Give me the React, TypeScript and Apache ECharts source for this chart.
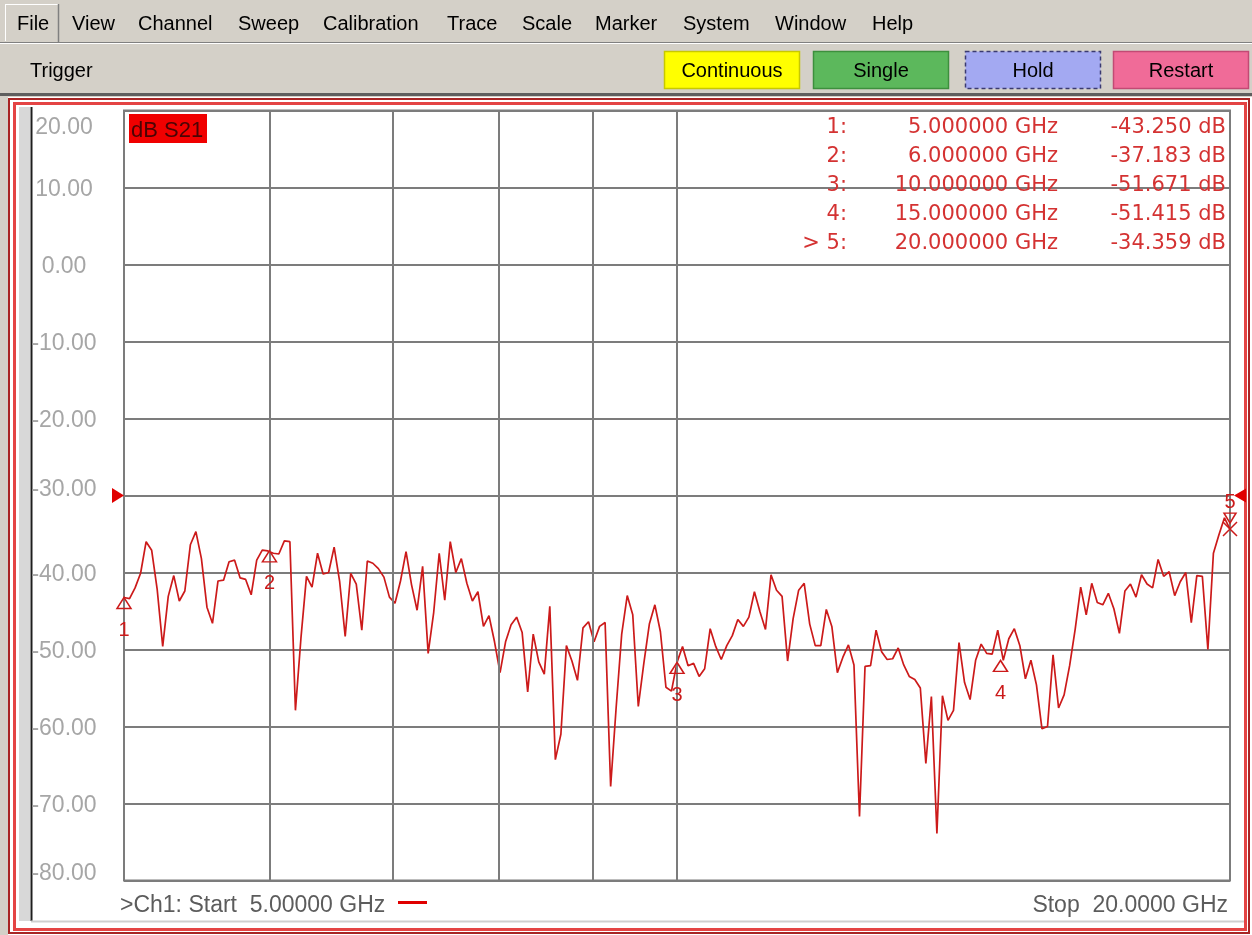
import React, { useEffect, useRef } from "react";
import * as echarts from "echarts";

// ---------------- data ----------------
const sweepStartGHz = 5;
const sweepStopGHz = 20;
// S21 magnitude (dB) at the 201 log-spaced sweep points
const s21dB: number[] = [
  -43.25, -43.4, -42.0, -40.1, -36.0, -37.1, -42.2, -49.6, -43.1, -40.4,
  -43.7, -42.4, -36.4, -34.7, -38.2, -44.5, -46.6, -41.1, -41.0, -38.6,
  -38.4, -40.7, -40.9, -42.9, -38.4, -37.1, -37.2, -37.5, -37.6, -35.9,
  -36.0, -57.9, -48.5, -40.5, -41.9, -37.5, -40.2, -40.0, -36.7, -41.2,
  -48.3, -40.1, -41.5, -47.5, -38.5, -38.8, -39.5, -40.6, -43.2, -44.0,
  -41.1, -37.3, -41.6, -44.9, -39.2, -50.5, -45.2, -37.5, -43.6, -36.0,
  -40.0, -38.2, -41.4, -43.7, -42.5, -47.0, -45.6, -49.0, -53.0, -49.0,
  -46.8, -45.8, -47.8, -55.5, -48.0, -51.6, -53.2, -44.4, -64.3, -61.0,
  -49.5, -51.5, -54.0, -47.2, -46.4, -49.0, -47.0, -46.5, -67.8, -57.5,
  -48.0, -43.0, -45.5, -57.4, -51.8, -46.7, -44.2, -47.7, -54.9, -55.4,
  -51.67, -49.6, -52.1, -51.8, -53.5, -52.5, -47.3, -49.6, -51.3, -49.5,
  -48.2, -46.1, -47.0, -45.8, -42.5, -45.1, -47.4, -40.3, -42.3, -43.1,
  -51.5, -46.0, -42.3, -41.4, -46.7, -49.5, -49.5, -44.8, -47.0, -53.0,
  -51.0, -49.4, -52.0, -71.7, -52.2, -52.1, -47.5, -50.3, -51.3, -51.2,
  -49.8, -52.0, -53.5, -53.9, -55.0, -64.8, -56.1, -73.9, -56.0, -59.2,
  -57.9, -49.1, -54.3, -56.5, -51.4, -49.3, -50.5, -50.6, -47.5, -51.4,
  -48.6, -47.3, -49.5, -53.8, -51.4, -54.6, -60.3, -60.0, -50.7, -57.6,
  -55.9, -52.1, -47.4, -41.9, -45.5, -41.4, -43.9, -44.2, -42.7, -44.7,
  -47.9, -42.4, -41.5, -43.2, -40.3, -41.5, -42.0, -38.3, -40.5, -39.9,
  -43.0, -41.2, -40.0, -46.5, -40.4, -40.5, -50.0, -37.5, -35.1, -32.9,
  -34.36,
];
const verticalGridGHz = [6, 7, 8, 9, 10];
const markerIds = ["1", "2", "3", "4", "5"];
const markerFreqGHz = [5, 6, 10, 15, 20];
const markerDb = [-43.25, -37.183, -51.671, -51.415, -34.359];
const activeMarkerIndex = 4;
const referenceLevelDb = -30;
const yAxisMin = -80;
const yAxisMax = 20;
const yAxisStep = 10;
const menuItems = ["File", "View", "Channel", "Sweep", "Calibration", "Trace", "Scale", "Marker", "System", "Window", "Help"];
const triggerButtons = ["Continuous", "Single", "Hold", "Restart"];
const traceLabel = "dB S21";
const startLabel = ">Ch1: Start  5.00000 GHz";
const stopLabel = "Stop  20.0000 GHz";

// ---------------- style / layout ----------------
const SANS = '"Liberation Sans", Arial, sans-serif';
const DEJAVU = '"DejaVu Sans", sans-serif';
const TRACE = "#cc1a1a";
const MARK_TEXT = "#d43232";
const GRID = "#7c7c7c";
const YLABEL = "#a6a6a6";
const FOOT = "#5c5c5c";
const menuX = [17, 72, 138, 238, 323, 447, 522, 595, 683, 775, 872];
const btnX = [664, 813, 965, 1113];
const btnFill = ["#ffff00", "#5cb85c", "#a3a9f2", "#f06b98"];
const btnStroke = ["#c8c800", "#3d8f3d", "#3a3a70", "#c24a74"];

const sweepFreqGHz = s21dB.map((_, i) =>
  sweepStartGHz * Math.pow(sweepStopGHz / sweepStartGHz, i / (s21dB.length - 1))
);

function text(t: string, x: number, y: number, size: number, fill: string, align = "left", family = SANS, z = 50) {
  return {
    type: "text",
    x,
    y,
    z,
    silent: true,
    style: {
      text: t,
      font: `${size}px ${family}`,
      fill,
      textAlign: align,
      align,
      textVerticalAlign: "middle",
      verticalAlign: "middle",
    },
  };
}
function rect(x: number, y: number, w: number, h: number, style: any, z = -10) {
  return { type: "rect", z, silent: true, shape: { x, y, width: w, height: h }, style };
}
function line(x1: number, y1: number, x2: number, y2: number, stroke: string, lw: number, z = -9) {
  return { type: "line", z, silent: true, shape: { x1, y1, x2, y2 }, style: { stroke, lineWidth: lw } };
}

function buildGraphic() {
  const els: any[] = [];
  // page background
  els.push(rect(0, 0, 1252, 935, { fill: "#d4d0c8" }, -20));
  // menu bar
  els.push(line(0, 42.5, 1252, 42.5, "#808080", 1));
  els.push(line(0, 43.5, 1252, 43.5, "#ffffff", 1));
  els.push(line(5.5, 4, 5.5, 41, "#ffffff", 1));
  els.push(line(5, 4.5, 59, 4.5, "#ffffff", 1));
  els.push(line(58.5, 4, 58.5, 42, "#808080", 1.5));
  menuItems.forEach((m, i) => els.push(text(m, menuX[i], 23, 20, "#000000")));
  // toolbar
  els.push(text("Trigger", 30, 70, 20, "#000000"));
  triggerButtons.forEach((b, i) => {
    els.push(
      rect(btnX[i] + 0.5, 51.5, 135, 37, {
        fill: btnFill[i],
        stroke: btnStroke[i],
        lineWidth: 1.5,
        lineDash: i === 2 ? [4, 3] : null,
      }, -8)
    );
    els.push(text(b, btnX[i] + 68, 70, 20, "#000000", "center"));
  });
  els.push(rect(0, 93, 1252, 3, { fill: "#5e5e5e" }, -9));
  // chart panel
  els.push(rect(8, 97, 1244, 838, { fill: "#ffffff" }, -9));
  els.push(rect(9, 99, 1240, 834, { fill: "none", stroke: "#a82424", lineWidth: 2 }, -8));
  els.push(rect(14.5, 103.5, 1231, 826, { fill: "none", stroke: "#e44444", lineWidth: 3 }, -8));
  els.push(rect(19, 107, 11, 814, { fill: "#d8d8d8" }, -8));
  els.push(line(31.5, 107, 31.5, 921, "#1e1e1e", 2, -7));
  els.push(line(31, 921.5, 1244, 921.5, "#cfcfcf", 2, -7));
  // trace label box
  els.push(rect(129, 114, 78, 29, { fill: "#f00000" }, 40));
  els.push(text(traceLabel, 131, 129, 22, "#4a0404", "left", SANS, 41));
  // marker table
  markerIds.forEach((id, k) => {
    const y = 126 + k * 29;
    const pre = k === activeMarkerIndex ? "> " : "";
    els.push(text(`${pre}${id}:`, 847, y, 21, MARK_TEXT, "right", DEJAVU));
    els.push(text(`${markerFreqGHz[k].toFixed(6)} GHz`, 1058, y, 21, MARK_TEXT, "right", DEJAVU));
    els.push(text(`${markerDb[k].toFixed(3)} dB`, 1226, y, 21, MARK_TEXT, "right", DEJAVU));
  });
  // footer
  els.push(text(startLabel, 120, 904, 23, FOOT));
  els.push(line(398, 902.5, 427, 902.5, "#e00000", 3, 40));
  els.push(text(stopLabel, 1228, 904, 23, FOOT, "right"));
  return els;
}

function buildOption(): any {
  const markerPoints: any[] = [];
  markerIds.forEach((id, k) => {
    const coord = [markerFreqGHz[k], markerDb[k]];
    if (k === activeMarkerIndex) {
      markerPoints.push({
        coord,
        symbol: "path://M0,0L12,0L6,10Z",
        symbolSize: [12, 10],
        symbolOffset: [0, -11],
        itemStyle: { color: "rgba(255,255,255,0)", borderColor: TRACE, borderWidth: 1.5 },
        label: { show: true, formatter: id, position: "top", distance: 1, color: TRACE, fontSize: 20, fontFamily: SANS },
      });
      markerPoints.push({
        coord,
        symbol: "path://M0,0L10,10M10,0L0,10",
        symbolSize: [14, 14],
        itemStyle: { color: "rgba(255,255,255,0)", borderColor: TRACE, borderWidth: 1.5 },
        label: { show: false },
      });
    } else {
      markerPoints.push({
        coord,
        symbol: "triangle",
        symbolSize: [14, 11],
        symbolOffset: [0, 5.5],
        itemStyle: { color: "rgba(255,255,255,0)", borderColor: TRACE, borderWidth: 1.5 },
        label: { show: true, formatter: id, position: "bottom", distance: 10, color: TRACE, fontSize: 20, fontFamily: SANS },
      });
    }
  });
  // reference level arrows
  markerPoints.push({
    coord: [sweepStartGHz, referenceLevelDb],
    symbol: "path://M0,0L10,6L0,12Z",
    symbolSize: [12, 15],
    symbolOffset: [-6, 0],
    itemStyle: { color: "#e00000" },
    label: { show: false },
  });
  markerPoints.push({
    coord: [sweepStopGHz, referenceLevelDb],
    symbol: "path://M10,0L0,6L10,12Z",
    symbolSize: [12, 14],
    symbolOffset: [10, 0],
    itemStyle: { color: "#e00000" },
    label: { show: false },
  });

  const labelStyle = { fontSize: 23, fontFamily: SANS, color: YLABEL };

  return {
    animation: false,
    backgroundColor: "transparent",
    graphic: { elements: buildGraphic() },
    grid: {
      left: 124,
      top: 110.5,
      width: 1106,
      height: 770,
      show: true,
      backgroundColor: "transparent",
      borderColor: GRID,
      borderWidth: 2,
    },
    xAxis: {
      type: "log",
      logBase: 10,
      min: sweepStartGHz,
      max: sweepStopGHz,
      axisLine: { show: false },
      axisTick: { show: false },
      axisLabel: { show: false },
      splitLine: { show: false },
    },
    yAxis: {
      type: "value",
      min: yAxisMin,
      max: yAxisMax,
      interval: yAxisStep,
      axisLine: { show: false },
      axisTick: { show: false },
      splitLine: { show: true, lineStyle: { color: GRID, width: 2 } },
      axisLabel: {
        show: true,
        showMinLabel: true,
        showMaxLabel: true,
        align: "center",
        margin: 60,
        formatter: (v: number) => {
          const s = v.toFixed(2);
          if (v === yAxisMax) return `{top|${s}}`;
          if (v === yAxisMin) return `{bot|${s}}`;
          if (v === referenceLevelDb) return `{ref|${s}}`;
          return `{n|${s}}`;
        },
        rich: {
          n: { ...labelStyle },
          top: { ...labelStyle, padding: [31, 0, 0, 0] },
          bot: { ...labelStyle, padding: [0, 0, 17, 0] },
          ref: { ...labelStyle, padding: [0, 0, 15, 0] },
        },
      },
    },
    series: [
      {
        type: "line",
        name: "grid",
        z: 1,
        data: [],
        silent: true,
        markLine: {
          silent: true,
          symbol: "none",
          animation: false,
          label: { show: false },
          lineStyle: { color: GRID, width: 2, type: "solid" },
          data: verticalGridGHz.map((f) => ({ xAxis: f })),
        },
      },
      {
        type: "line",
        name: "S21",
        z: 3,
        data: s21dB.map((v, i) => [sweepFreqGHz[i], v]),
        showSymbol: false,
        symbol: "none",
        clip: true,
        lineStyle: { color: TRACE, width: 1.7 },
        markPoint: { silent: true, animation: false, data: markerPoints },
      },
    ],
  };
}

export default function App() {
  const ref = useRef<HTMLDivElement>(null);
  useEffect(() => {
    const el = ref.current;
    if (!el) return;
    const chart = echarts.init(el, null, { renderer: "svg" });
    chart.setOption(buildOption());
    return () => chart.dispose();
  }, []);
  return (
    <div
      ref={ref}
      style={{ position: "fixed", left: 0, top: 0, width: 1252, height: 935 }}
    />
  );
}
